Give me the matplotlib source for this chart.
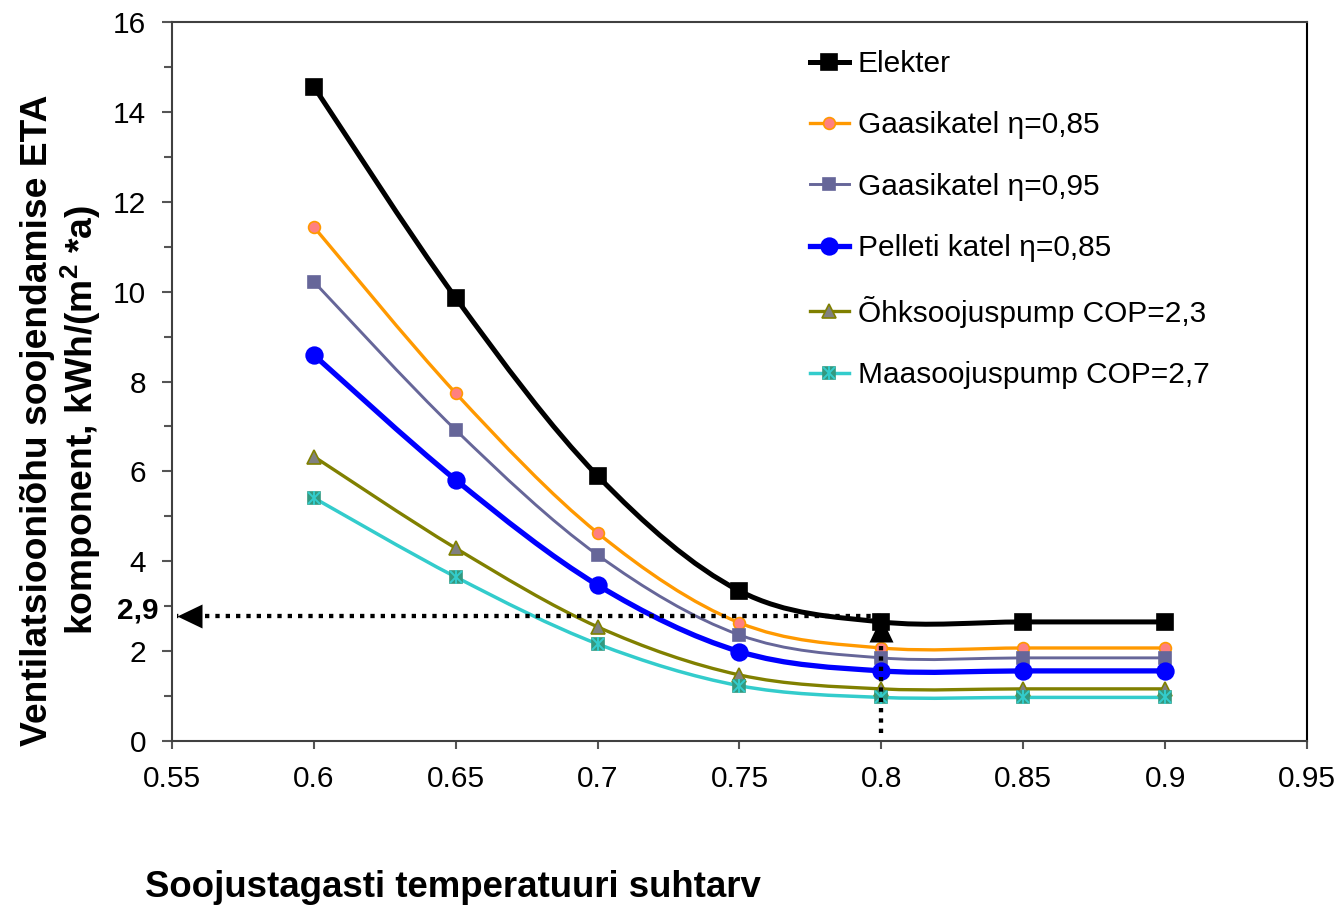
import numpy as np
import matplotlib.pyplot as plt
from matplotlib.path import Path
from matplotlib.patches import PathPatch
from matplotlib.lines import Line2D
from matplotlib.legend_handler import HandlerTuple

plt.rcParams['font.family'] = ['Liberation Sans', 'DejaVu Sans']
plt.rcParams['mathtext.default'] = 'regular'

# data
ratio = [0.6, 0.65, 0.7, 0.75, 0.8, 0.85, 0.9]
elekter = [14.56, 9.86, 5.90, 3.34, 2.65, 2.65, 2.65]
gaas_085 = [11.44, 7.74, 4.63, 2.63, 2.07, 2.07, 2.07]
gaas_095 = [10.22, 6.92, 4.14, 2.36, 1.85, 1.85, 1.85]
pellet = [8.59, 5.81, 3.47, 1.99, 1.56, 1.56, 1.56]
ohk = [6.33, 4.29, 2.54, 1.47, 1.16, 1.16, 1.16]
maa = [5.41, 3.65, 2.16, 1.23, 0.97, 0.97, 0.97]

labels = ['Elekter', 'Gaasikatel η=0,85', 'Gaasikatel η=0,95',
          'Pelleti katel η=0,85', 'Õhksoojuspump COP=2,3', 'Maasoojuspump COP=2,7']

x_ticks = [0.55, 0.6, 0.65, 0.7, 0.75, 0.8, 0.85, 0.9, 0.95]
x_ticklabels = ['0.55', '0.6', '0.65', '0.7', '0.75', '0.8', '0.85', '0.9', '0.95']
y_ticks = [0, 2, 4, 6, 8, 10, 12, 14, 16]

# the read-off example drawn with arrows
read_x = 0.8
read_y = 2.78
read_top = 2.75
read_bottom = 0.18
arrow_end_x = 0.5517
read_label = '2,9'


def smooth_path(x, y):
    # excel-like smoothed line: bezier segments with catmull-rom tangents
    p = np.column_stack([x, y])
    n = len(p)
    verts = [p[0]]
    codes = [Path.MOVETO]
    for i in range(n - 1):
        p0 = p[max(i - 1, 0)]
        p3 = p[min(i + 2, n - 1)]
        verts += [p[i] + (p[i + 1] - p0) / 6, p[i + 1] - (p3 - p[i]) / 6, p[i + 1]]
        codes += [Path.CURVE4] * 3
    return Path(verts, codes)


# arrow heads as markers whose tip sits at the origin
head_left = Path([(0, 0), (1, 0.48), (1, -0.48), (0, 0)],
                 [Path.MOVETO, Path.LINETO, Path.LINETO, Path.CLOSEPOLY])
head_up = Path([(0, 0), (0.48, -1), (-0.48, -1), (0, 0)],
               [Path.MOVETO, Path.LINETO, Path.LINETO, Path.CLOSEPOLY])

styles = [
    dict(color='black', lw=3.6, marker='s', ms=12, mfc='black', mec='black'),
    dict(color='#FF9900', lw=2.4, marker='o', ms=8.5, mfc='#FF8080', mec='#FF9900'),
    dict(color='#666699', lw=2.1, marker='s', ms=9, mfc='#666699', mec='#666699'),
    dict(color='#0000FF', lw=3.8, marker='o', ms=12, mfc='#0000FF', mec='#0000FF'),
    dict(color='#808000', lw=2.4, marker='^', ms=9.5, mfc='#808080', mec='#808000'),
    dict(color='#33CCCC', lw=2.5, marker='s', ms=9, mfc='#339980', mec='#339980'),
]
series = [elekter, gaas_085, gaas_095, pellet, ohk, maa]

fig = plt.figure(figsize=(13.43, 9.10), dpi=100)
ax = fig.add_axes([0.12807, 0.18571, 0.84512, 0.79011])

handles = []
for vals, st, lab in zip(series, styles, labels):
    ax.add_patch(PathPatch(smooth_path(ratio, vals), fill=False, edgecolor=st['color'],
                           lw=st['lw'], capstyle='round', zorder=2))
    ax.plot(ratio, vals, ls='none', marker=st['marker'], ms=st['ms'], mfc=st['mfc'],
            mec=st['mec'], mew=1.2, zorder=3)
    h = Line2D([], [], color=st['color'], lw=st['lw'], marker=st['marker'], ms=st['ms'],
               mfc=st['mfc'], mec=st['mec'], mew=1.2)
    handles.append(h)

# asterisk on top of the ground source heat pump squares
ax.plot(ratio, maa, ls='none', marker='x', ms=8, mec='#33CCCC', mew=1.4, zorder=4)
ax.plot(ratio, maa, ls='none', marker='|', ms=10, mec='#33CCCC', mew=1.4, zorder=4)
star_x = Line2D([], [], ls='none', marker='x', ms=8, mec='#33CCCC', mew=1.4)
star_v = Line2D([], [], ls='none', marker='|', ms=10, mec='#33CCCC', mew=1.4)
handles[-1] = (handles[-1], star_x, star_v)

# dotted read-off arrows
ax.plot([read_x, arrow_end_x], [read_y, read_y], color='black', lw=3.1,
        ls=(0, (1, 1.4)), zorder=5)
ax.plot([arrow_end_x], [read_y], ls='none', marker=head_left, ms=36, mfc='black',
        mew=0, zorder=5)
ax.plot([read_x, read_x], [read_bottom, read_top], color='black', lw=3.1,
        ls=(0, (1, 1.4)), zorder=5)
ax.plot([read_x], [read_top], ls='none', marker=head_up, ms=36, mfc='black',
        mew=0, zorder=5)
ax.text(-0.0123, 2.9, read_label, transform=ax.get_yaxis_transform(), ha='right',
        va='center', fontsize=21.5, fontweight='bold')

ax.set_xlim(0.55, 0.95)
ax.set_ylim(0, 16)
ax.set_xticks(x_ticks)
ax.set_xticklabels(x_ticklabels)
ax.set_yticks(y_ticks)
ax.set_yticks(np.arange(1, 16, 2), minor=True)
ax.tick_params(axis='both', which='major', labelsize=21.5, direction='out', width=1.5,
               color='#555555')
ax.tick_params(axis='y', which='major', length=7.5, pad=11)
ax.tick_params(axis='y', which='minor', length=6, width=1.5, color='#555555')
ax.tick_params(axis='x', which='major', length=6, pad=11)
for side in ['left', 'bottom', 'top']:
    ax.spines[side].set_color('#404040')
    ax.spines[side].set_linewidth(1.5)
ax.spines['right'].set_color('black')
ax.spines['right'].set_linewidth(1.5)

ax.legend(handles, labels, loc='upper left', bbox_to_anchor=(0.562, 0.961), frameon=False,
          fontsize=21.5, borderpad=0, borderaxespad=0, handlelength=1.3, handletextpad=0.3,
          labelspacing=1.12, handler_map={tuple: HandlerTuple(ndivide=1)})

fig.text(0.0458, 0.5385, 'Ventilatsiooniõhu soojendamise ETA\nkomponent, kWh/(m$^2$ *a)',
         rotation=90, ha='center', va='center', multialignment='center', fontsize=26.8,
         fontweight='bold', linespacing=1.1)
fig.text(0.108, 0.0242, 'Soojustagasti temperatuuri suhtarv', ha='left', va='center',
         fontsize=26.4, fontweight='bold')

fig.savefig('out.png', dpi=100)
